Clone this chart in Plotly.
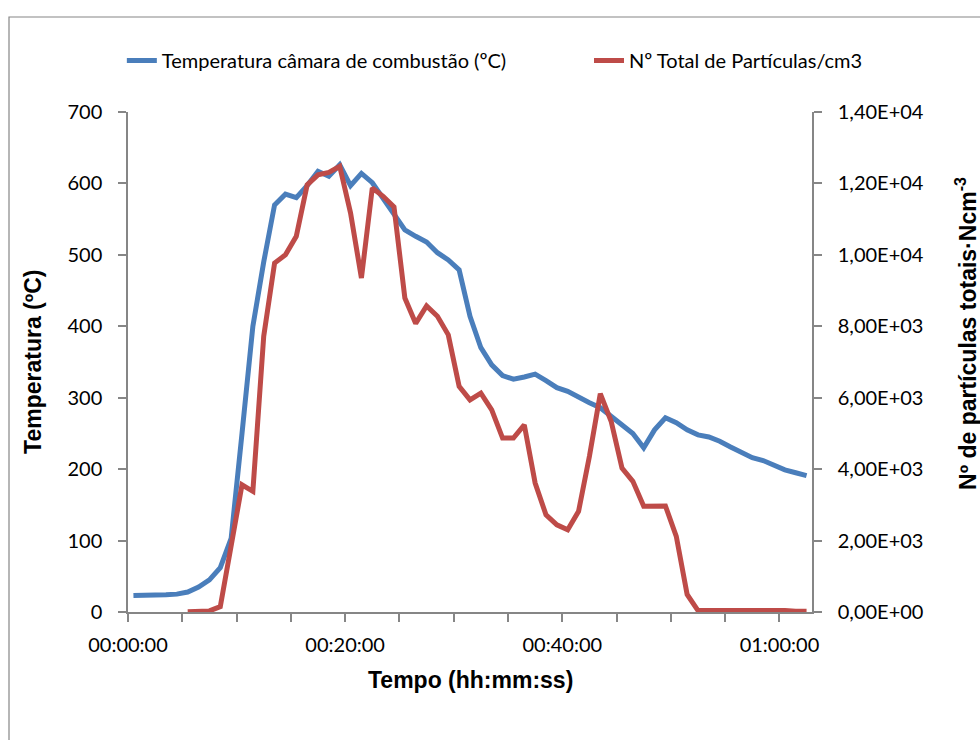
import plotly.graph_objects as go

# Amostras de temperatura da câmara de combustão (hh:mm:ss, ºC)
tempo_temperatura = [
    "00:00:30", "00:01:30", "00:02:30", "00:03:30", "00:04:30", "00:05:30", "00:06:30",
    "00:07:30", "00:08:30", "00:09:30", "00:10:30", "00:11:30", "00:12:30", "00:13:30",
    "00:14:30", "00:15:30", "00:16:30", "00:17:30", "00:18:30", "00:19:30", "00:20:30",
    "00:21:30", "00:22:30", "00:23:30", "00:24:30", "00:25:30", "00:26:30", "00:27:30",
    "00:28:30", "00:29:30", "00:30:30", "00:31:30", "00:32:30", "00:33:30", "00:34:30",
    "00:35:30", "00:36:30", "00:37:30", "00:38:30", "00:39:30", "00:40:30", "00:41:30",
    "00:42:30", "00:43:30", "00:44:30", "00:45:30", "00:46:30", "00:47:30", "00:48:30",
    "00:49:30", "00:50:30", "00:51:30", "00:52:30", "00:53:30", "00:54:30", "00:55:30",
    "00:56:30", "00:57:30", "00:58:30", "00:59:30", "01:00:30", "01:01:30", "01:02:30",
]
temperatura = [
    23, 23, 23, 24, 25, 28, 35, 45, 62, 103,
    250, 400, 490, 570, 585, 580, 597, 617, 610, 626,
    597, 614, 601, 578, 556, 535, 526, 518, 503, 493,
    479, 414, 370, 346, 331, 326, 329, 333, 324, 314,
    309, 300, 293, 286, 274, 260, 250, 230, 255, 272,
    265, 255, 248, 245, 239, 231, 223, 216, 212, 205,
    199, 195, 191,
]

# Contagem total de partículas (hh:mm:ss, partículas/cm3)
tempo_particulas = [
    "00:05:30", "00:06:30", "00:07:30", "00:08:30", "00:09:30", "00:10:30", "00:11:30",
    "00:12:30", "00:13:30", "00:14:30", "00:15:30", "00:16:30", "00:17:30", "00:18:30",
    "00:19:30", "00:20:30", "00:21:30", "00:22:30", "00:23:30", "00:24:30", "00:25:30",
    "00:26:30", "00:27:30", "00:28:30", "00:29:30", "00:30:30", "00:31:30", "00:32:30",
    "00:33:30", "00:34:30", "00:35:30", "00:36:30", "00:37:30", "00:38:30", "00:39:30",
    "00:40:30", "00:41:30", "00:42:30", "00:43:30", "00:44:30", "00:45:30", "00:46:30",
    "00:47:30", "00:48:30", "00:49:30", "00:50:30", "00:51:30", "00:52:30", "00:53:30",
    "00:54:30", "00:55:30", "00:56:30", "00:57:30", "00:58:30", "00:59:30", "01:00:30",
    "01:01:30", "01:02:30",
]
particulas = [
    10, 10, 30, 150, 1800, 3560, 3380, 7720, 9770, 10000,
    10520, 11960, 12240, 12310, 12480, 11170, 9350, 11870, 11640, 11340,
    8790, 8080, 8570, 8280, 7760, 6320, 5940, 6130, 5660, 4870,
    4870, 5240, 3610, 2720, 2440, 2300, 2820, 4360, 6110, 5340,
    4030, 3660, 2960, 2970, 2970, 2120, 490, 40, 40, 70,
    40, 40, 50, 40, 50, 40, 20, 20,
]

# Escalas dos eixos
ticks_temperatura = [0, 100, 200, 300, 400, 500, 600, 700]
ticks_particulas = [0, 2000, 4000, 6000, 8000, 10000, 12000, 14000]
rotulos_particulas = ["0,00E+00", "2,00E+03", "4,00E+03", "6,00E+03",
                      "8,00E+03", "1,00E+04", "1,20E+04", "1,40E+04"]

DIA = "1970-01-01 "
AZUL = "#4A7EBB"
VERMELHO = "#BE4B48"
CINZA = "#868686"
FONTE_TICKS = dict(family="Lato, Carlito, Calibri, sans-serif", size=20, color="black")
FONTE_TITULO = dict(family="Liberation Sans, Arial, sans-serif", size=23,
                    color="black", weight="bold")

fig = go.Figure()
fig.add_trace(go.Scatter(
    x=[DIA + t for t in tempo_temperatura], y=temperatura,
    mode="lines", name="Temperatura câmara de combustão (ºC)",
    line=dict(color=AZUL, width=5), legend="legend", showlegend=True,
))
fig.add_trace(go.Scatter(
    x=[DIA + t for t in tempo_particulas], y=particulas,
    mode="lines", name="Nº Total de Partículas/cm3", yaxis="y2",
    line=dict(color=VERMELHO, width=5), legend="legend2", showlegend=True,
))

eixo = dict(showline=True, linecolor=CINZA, linewidth=1.5, showgrid=False,
            zeroline=False, ticks="outside", ticklen=8, tickwidth=1.5,
            tickcolor=CINZA, tickfont=FONTE_TICKS)

legenda = dict(orientation="h", y=1.103, yanchor="middle", xanchor="left",
               font=FONTE_TICKS, bgcolor="rgba(0,0,0,0)", itemwidth=30,
               visible=True)

fig.update_layout(
    width=980, height=740,
    margin=dict(l=128, r=168, t=112, b=128),
    paper_bgcolor="white", plot_bgcolor="white",
    showlegend=True,
    xaxis=dict(
        **eixo, type="date",
        range=[DIA + "00:00:00", DIA + "01:03:00"],
        tick0=DIA + "00:00:00", dtick=20 * 60 * 1000, tickformat="%H:%M:%S",
        minor=dict(dtick=5 * 60 * 1000, ticks="outside", ticklen=8,
                   tickwidth=1.5, tickcolor=CINZA, showgrid=False),
        ticklabelstandoff=6,
    ),
    yaxis=dict(**eixo, range=[0, 700], tickvals=ticks_temperatura,
               ticklabelstandoff=12),
    yaxis2=dict(**eixo, range=[0, 14000], overlaying="y", side="right",
                tickvals=ticks_particulas, ticktext=rotulos_particulas,
                ticklabelstandoff=12),
    legend=dict(**legenda, x=-0.009),
    legend2=dict(**legenda, x=0.674),
    annotations=[
        dict(text="Tempo (hh:mm:ss)", xref="paper", yref="paper", x=0.5, y=-0.136,
             showarrow=False, font=FONTE_TITULO, xanchor="center", yanchor="middle"),
        dict(text="Temperatura (ºC)", xref="paper", yref="paper", x=-0.139, y=0.5,
             showarrow=False, font=FONTE_TITULO, textangle=-90,
             xanchor="center", yanchor="middle"),
        dict(text="Nº de partículas totais·Ncm<sup>-3</sup>", xref="paper", yref="paper",
             x=1.225, y=0.558, showarrow=False, font=FONTE_TITULO, textangle=-90,
             xanchor="center", yanchor="middle"),
    ],
    shapes=[
        dict(type="rect", xref="paper", yref="paper",
             x0=(9 - 128) / 684, x1=1.5, y0=-0.5, y1=(612 - 17) / 500,
             line=dict(color=CINZA, width=1.2), layer="below"),
    ],
)

fig.write_html("out.html")
